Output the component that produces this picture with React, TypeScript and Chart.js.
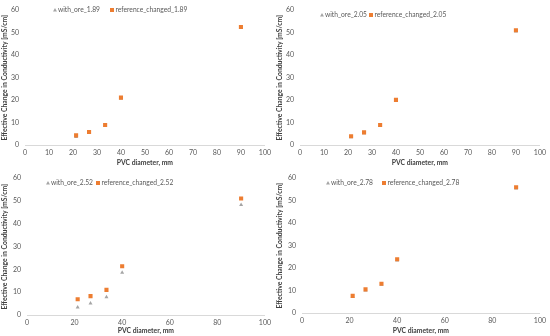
import React, { useEffect, useRef } from "react";
import { Chart, registerables } from "chart.js";

Chart.register(...registerables);

const pvcDiameters = [21.3, 26.7, 33.4, 40, 90];

const ore189 = [3.6, 5.5, 8.7, 20.8, 52.3];
const ref189 = [4.3, 5.8, 8.9, 21.1, 52.5];
const ore205 = [3.5, 5.3, 8.6, 19.6, 50.6];
const ref205 = [3.9, 5.6, 8.9, 20.1, 51.1];
const ore252 = [3.4, 5.1, 7.9, 18.6, 48.3];
const ref252 = [6.9, 8.3, 11.0, 21.4, 51.1];
const ore278 = [7.2, 10.1, 12.6, 23.4, 55.5];
const ref278 = [7.6, 10.5, 13.0, 23.9, 56.0];

const labels = ["1.89", "2.05", "2.52", "2.78"];
const yTitle = "Effective Change in Conductivity [mS/cm]";
const xTitle = "PVC diameter, mm";

const GRAY = "#A5A5A5";
const ORANGE = "#ED7D31";
const FONT = "Lato, 'Open Sans', sans-serif";

type PanelProps = {
  ore: number[];
  refVals: number[];
  label: string;
  xStep: number;
  left: number;
  right: number;
  top: number;
  bottom: number;
  legendY: number;
  legendX1: number;
  legendX2: number;
  posX: number;
  posY: number;
};

function Panel(p: PanelProps) {
  const canvasRef = useRef<HTMLCanvasElement | null>(null);
  useEffect(() => {
    const W = 275, H = 168;
    const toPts = (ys: number[]) => pvcDiameters.map((x, i) => ({ x, y: ys[i] }));
    const legendPlugin = {
      id: "customLegend",
      afterDraw(chart: any) {
        const ctx = chart.ctx;
        ctx.save();
        ctx.font = `6.7px ${FONT}`;
        ctx.textBaseline = "middle";
        const tx = p.legendX1, ty = p.legendY;
        ctx.fillStyle = GRAY;
        ctx.beginPath();
        ctx.moveTo(tx, ty - 2);
        ctx.lineTo(tx + 2, ty + 1.5);
        ctx.lineTo(tx - 2, ty + 1.5);
        ctx.closePath();
        ctx.fill();
        ctx.fillStyle = "#595959";
        ctx.fillText("with_ore_" + p.label, tx + 3, ty);
        const sx = p.legendX2;
        ctx.fillStyle = ORANGE;
        ctx.fillRect(sx - 2, ty - 2, 4, 4);
        ctx.fillStyle = "#595959";
        ctx.fillText("reference_changed_" + p.label, sx + 3.5, ty);
        ctx.restore();
      },
    };
    const chart = new Chart(canvasRef.current as HTMLCanvasElement, {
      type: "scatter",
      data: {
        datasets: [
          {
            label: "with_ore_" + p.label,
            data: toPts(p.ore),
            pointStyle: "triangle",
            pointRadius: 2.3,
            backgroundColor: GRAY,
            borderColor: GRAY,
            borderWidth: 0,
            order: 1,
          },
          {
            label: "reference_changed_" + p.label,
            data: toPts(p.refVals),
            pointStyle: "rect",
            pointRadius: 2.9,
            backgroundColor: ORANGE,
            borderColor: ORANGE,
            borderWidth: 0,
            order: 0,
          },
        ],
      },
      options: {
        responsive: false,
        animation: false,
        layout: { padding: { top: p.top, right: W - p.right, left: 0, bottom: 0 } },
        plugins: { legend: { display: false }, tooltip: { enabled: false } },
        scales: {
          x: {
            type: "linear",
            min: 0,
            max: 100,
            ticks: { stepSize: p.xStep, color: "#595959", font: { size: 7, family: FONT }, padding: 4, maxRotation: 0 },
            grid: { display: false, drawTicks: false },
            border: { display: true, color: "#D9D9D9", width: 1 },
            title: { display: true, text: xTitle, color: "#404040", font: { size: 6.8, weight: "bold", family: FONT }, padding: { top: 0, bottom: 1 } },
            afterFit(scale: any) { scale.height = H - p.bottom; },
          },
          y: {
            type: "linear",
            min: 0,
            max: 60,
            ticks: { stepSize: 10, color: "#595959", font: { size: 7, family: FONT }, padding: 6 },
            grid: { display: false, drawTicks: false },
            border: { display: false },
            title: { display: true, text: yTitle, color: "#404040", font: { size: 6.8, weight: "bold", family: FONT }, padding: { top: 1, bottom: 0 } },
            afterFit(scale: any) { scale.width = p.left; },
          },
        },
      },
      plugins: [legendPlugin],
    } as any);
    return () => chart.destroy();
  }, []);
  return (
    <canvas
      ref={canvasRef}
      width={275}
      height={168}
      style={{ position: "absolute", left: p.posX, top: p.posY, width: 275, height: 168 }}
    />
  );
}

export default function App() {
  return (
    <div style={{ position: "fixed", left: 0, top: 0, width: 550, height: 336, background: "#fff" }}>
      <Panel ore={ore189} refVals={ref189} label={labels[0]} xStep={10} left={25} right={265} top={5} bottom={145} legendY={10} legendX1={55} legendX2={112} posX={0} posY={0} />
      <Panel ore={ore205} refVals={ref205} label={labels[1]} xStep={10} left={25} right={266} top={5} bottom={145} legendY={15} legendX1={47} legendX2={96} posX={275} posY={0} />
      <Panel ore={ore252} refVals={ref252} label={labels[2]} xStep={20} left={27} right={265} top={7} bottom={147} legendY={15} legendX1={48} legendX2={98} posX={0} posY={168} />
      <Panel ore={ore278} refVals={ref278} label={labels[3]} xStep={20} left={27} right={266} top={6} bottom={145} legendY={15} legendX1={53} legendX2={109} posX={275} posY={168} />
    </div>
  );
}
